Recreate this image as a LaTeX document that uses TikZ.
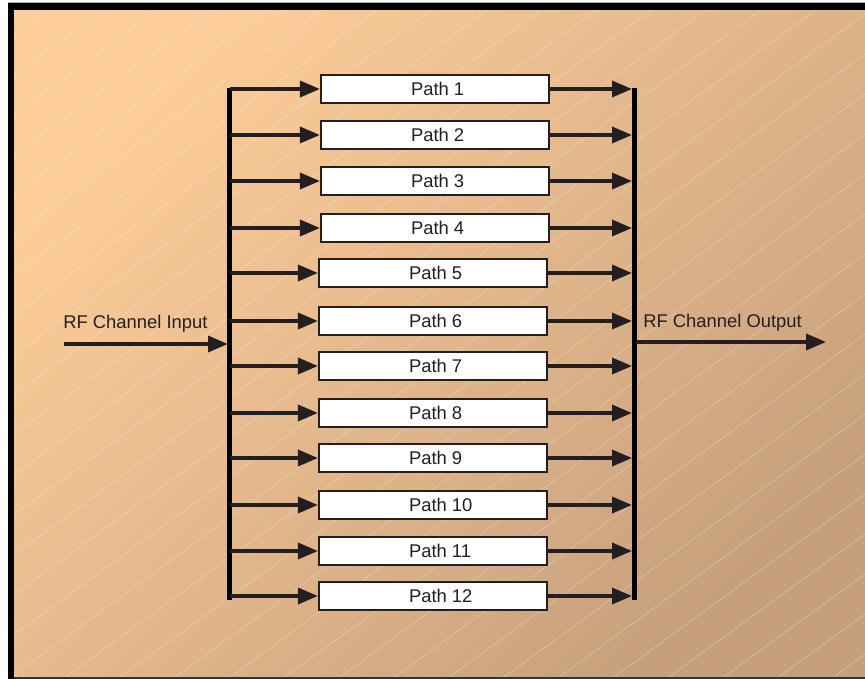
\documentclass[tikz,border=0pt]{standalone}
\usepackage{fontspec}
\setmainfont{Liberation Sans}
\usetikzlibrary{arrows.meta}

\definecolor{bglight}{RGB}{253,205,153}
\definecolor{bgdark}{RGB}{198,160,125}
\definecolor{ink}{RGB}{35,31,32}

\begin{document}
\begin{tikzpicture}[x=0.75pt,y=-0.75pt,
  pathbox/.style={draw=ink,line width=1.6pt,fill=white,minimum width=171pt,
    minimum height=21pt,inner sep=0pt,text=ink,font=\fontsize{13.8}{16}\selectfont},
  lbl/.style={anchor=west,inner sep=0pt,text=ink,font=\fontsize{13.8}{16}\selectfont},
  arr/.style={draw=ink,line width=2.6pt,
    -{Triangle[length=15pt,width=12pt]}},
  bus/.style={draw=black,line width=4.2pt},
  hatch/.style={white,opacity=0.25,line width=0.6pt}]

\useasboundingbox (0,0) rectangle (865,679);
\fill[white] (0,0) rectangle (865,679);

% background panel with diagonal gradient and faint hatching
\shade[shading=axis,top color=bglight,bottom color=bgdark,shading angle=45]
  (14,10) rectangle (865,677);
\begin{scope}
  \clip (14,10) rectangle (865,677);
  \foreach \c in {5,45,...,1325}
    \draw[hatch] (0,\c) -- (865,\c-631);
\end{scope}

% frame
\fill[black] (8,3) rectangle (14,679);
\fill[black] (8,3) rectangle (865,10);
\fill[black!80] (14,677) rectangle (865,678.5);
\draw[gray!60,line width=0.6pt] (8,2.5) -- (865,2.5);

% parallel paths: labels start at a fixed offset inside each box
\foreach \i/\y/\x in {1/89/435,2/135/435,3/181/435,4/228/435,
                      5/273/433,6/321/433,7/366/433,8/413/433,
                      9/458/433,10/505/433,11/551/433,12/596/433}{
  \node[pathbox] (p\i) at (\x,\y) {\makebox[171pt][l]{\hspace{67.5pt}Path \i}};
  \coordinate (lb\i) at (229.5,\y);
  \coordinate (rb\i) at (632,\y);
}

% input and output buses
\coordinate (lbtop) at (229.5,88);
\coordinate (lbbot) at (229.5,599.5);
\coordinate (rbtop) at (634.5,88);
\coordinate (rbbot) at (634.5,599.5);
\draw[bus] (lbtop) -- (lbbot);
\draw[bus] (rbtop) -- (rbbot);

\foreach \i in {1,...,12}{
  \draw[arr] (lb\i) -- (p\i.west);
  \draw[arr] (p\i.east) -- (rb\i);
}

% channel input and output
\coordinate (inStart) at (64,344);
\coordinate (inEnd) at (228,344);
\coordinate (outStart) at (636,342);
\coordinate (outEnd) at (826,342);
\draw[arr] (inStart) -- (inEnd);
\draw[arr] (outStart) -- (outEnd);
\node[lbl] (inlbl) at (63,324) {RF Channel Input};
\node[lbl] (outlbl) at (643,323) {RF Channel Output};

\end{tikzpicture}
\end{document}
